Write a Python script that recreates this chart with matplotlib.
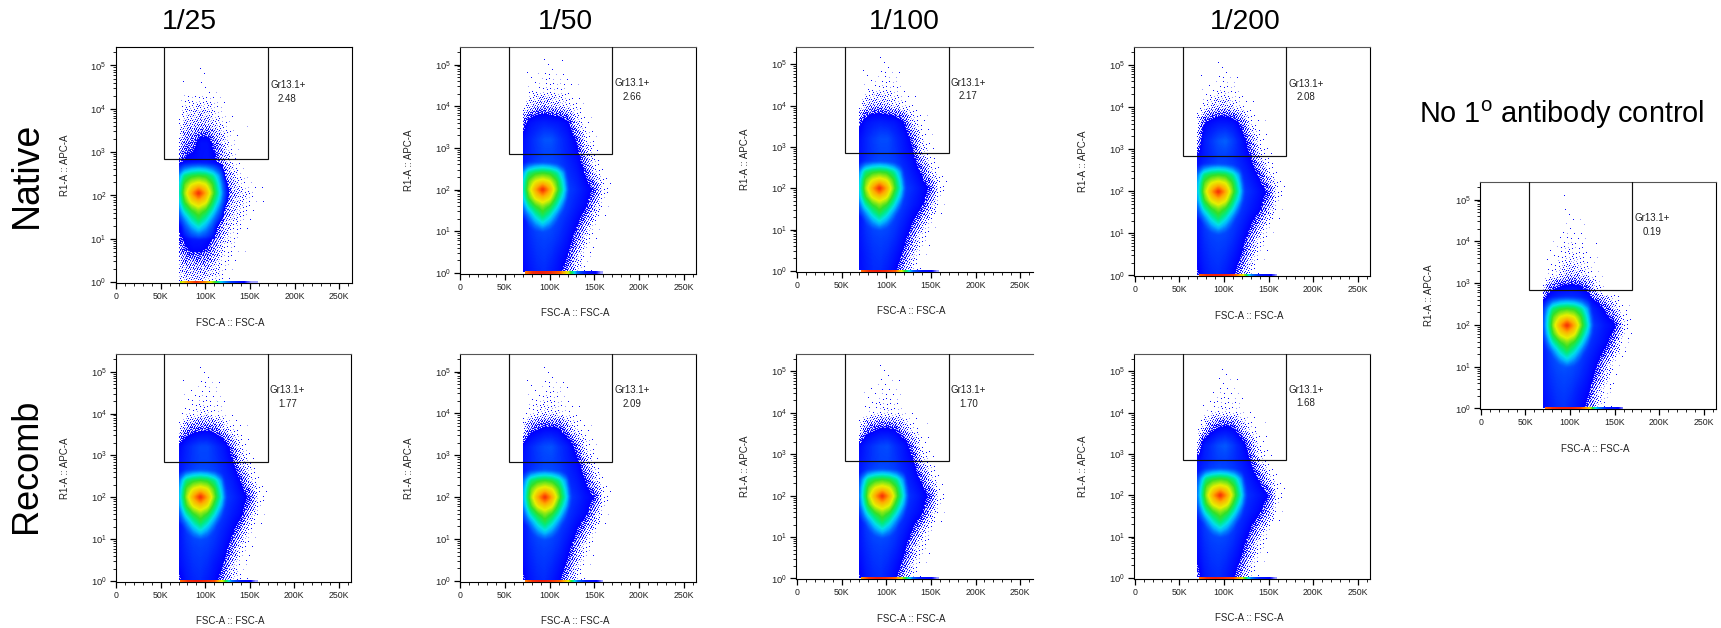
import numpy as np
import matplotlib
matplotlib.use("Agg")
import matplotlib.pyplot as plt
from matplotlib.colors import LinearSegmentedColormap, Normalize
from matplotlib.ticker import FixedLocator, FixedFormatter, NullFormatter

plt.rcParams['font.family'] = ['Liberation Sans', 'DejaVu Sans']
plt.rcParams['mathtext.default'] = 'regular'

W, H = 1721, 628

# ---- values ----
COLUMN_TITLES = ["1/25", "1/50", "1/100", "1/200"]
ROW_TITLES = ["Native", "Recomb"]
CONTROL_TITLE = "No 1$^{o}$ antibody control"
GATE_NAME = "Gr13.1+"
GATE_PERCENT = ["2.48", "2.66", "2.17", "2.08", "1.77", "2.09", "1.70", "1.68", "0.19"]
GATE_X_K = [54, 170]
GATE_Y = 700
MODE_X_K = [92, 92, 93, 94, 94, 94.5, 96, 96, 97]
MODE_LOG_Y = [2.05, 2.0, 2.0, 2.0, 2.0, 2.0, 2.0, 2.0, 2.0]

# density level (0-100 on the colour scale) on FSC-A (K) / log10 APC-A grid.
# Below 10 the number is the share of occupied pixels (10 = all occupied).
FSC_K = [70, 78, 86, 94, 102, 110, 120, 130, 140, 150, 160, 170]
LOG_APC = [5.2, 4.8, 4.4, 4.0, 3.6, 3.2, 2.8, 2.4, 2.0, 1.6, 1.2, 0.8, 0.4, 0.0]

N25 = [[0, 0, 0, 0, 0, 0, 0, 0, 0, 0, 0, 0],
       [0, 0, .1, .2, .2, .1, 0, 0, 0, 0, 0, 0],
       [0, .1, .1, .2, .2, .1, 0, 0, 0, 0, 0, 0],
       [.5, 2, 2.5, 3, 2.5, 1.5, .5, .1, 0, 0, 0, 0],
       [1, 4, 4, 5, 5, 3, 1.5, .3, .1, 0, 0, 0],
       [3, 7, 8, 13, 13, 8, 3, .8, .1, 0, 0, 0],
       [7, 11, 12, 13, 14, 11, 5, 1.5, .3, 0, 0, 0],
       [11, 17, 21, 23, 21, 15, 8, 4, 1, .1, 0, 0],
       [13, 19, 23, 25, 22, 17, 9, 5, 3, 1, .2, 0],
       [12, 17, 21, 23, 20, 15, 7, 3, 1.5, .4, 0, 0],
       [10, 14, 17, 18, 15, 10, 4, 1.5, .4, .1, 0, 0],
       [6, 10, 12, 12, 10, 6, 2, .8, .2, 0, 0, 0],
       [3, 5, 5, 5, 5, 3, 1, .4, .1, 0, 0, 0],
       [2, 3, 3, 3, 2, 1.5, .5, .1, 0, 0, 0, 0]]
N50 = [[0, 0, 0, 0, 0, 0, 0, 0, 0, 0, 0, 0],
       [0, .1, .3, .5, .6, .5, .2, .05, 0, 0, 0, 0],
       [.05, .4, .9, 1.3, 1.2, 1, .6, .2, .05, 0, 0, 0],
       [.4, 3, 5, 5, 4.5, 3.5, 2, .7, .2, .05, 0, 0],
       [7, 13, 15, 16, 15, 14, 11, 3, .8, .1, 0, 0],
       [12, 17, 21, 25, 25, 20, 15, 9, 2, .4, 0, 0],
       [13, 17, 20, 22, 22, 20, 16, 12, 5, .8, .05, 0],
       [14, 22, 26, 28, 26, 24, 19, 15, 9, 2.5, .3, 0],
       [17, 24, 28, 30, 28, 26, 22, 18, 13, 9, 1.5, .05],
       [14, 23, 27, 28, 27, 25, 20, 15, 11, 4, .5, .05],
       [13, 20, 24, 26, 24, 21, 16, 11, 5, 1, .1, 0],
       [13, 18, 21, 22, 21, 18, 13, 7, 2, .3, 0, 0],
       [12, 16, 19, 20, 18, 14, 10, 3.5, .8, .1, 0, 0],
       [10, 14, 17, 18, 15, 12, 6, 2, .4, .05, 0, 0]]
N100 = [[0, 0, 0, 0, 0, 0, 0, 0, 0, 0, 0, 0],
        [0, .1, .3, .5, .6, .4, .1, 0, 0, 0, 0, 0],
        [.05, .5, .9, 1.2, 1.4, 1, .5, .1, 0, 0, 0, 0],
        [.4, 3.5, 5, 5, 4, 2.6, 1.3, .5, .1, 0, 0, 0],
        [8, 13, 15, 16, 15, 14, 10, 2.5, .7, .1, 0, 0],
        [12, 17, 21, 24, 24, 19, 14, 8, 1.5, .3, 0, 0],
        [13, 17, 20, 22, 22, 20, 15, 11, 4, .7, 0, 0],
        [14, 22, 26, 28, 26, 24, 19, 14, 9, 2.4, .3, 0],
        [17, 24, 28, 30, 28, 26, 22, 18, 13, 9, 1.5, 0],
        [14, 23, 27, 28, 27, 25, 20, 15, 11, 4.5, .4, 0],
        [13, 20, 24, 26, 24, 21, 16, 10, 4.5, 1, .1, 0],
        [13, 18, 21, 22, 21, 18, 12, 6, 1.5, .2, 0, 0],
        [12, 16, 19, 20, 18, 14, 9, 3, .6, .05, 0, 0],
        [12, 15, 18, 18, 15, 11, 5, 1.5, .3, 0, 0, 0]]
N200 = [[0, 0, 0, 0, 0, 0, 0, 0, 0, 0, 0, 0],
        [0, 0, .2, .4, .4, .2, .05, 0, 0, 0, 0, 0],
        [0, .2, .6, 1.1, 1.1, .8, .3, .05, 0, 0, 0, 0],
        [0, 1.2, 3, 4, 4, 2.8, 1.2, .4, .1, 0, 0, 0],
        [1, 10, 13, 15, 15, 14, 8, 1.5, .4, .05, 0, 0],
        [3, 15, 20, 25, 27, 22, 14, 6, 1.2, .2, 0, 0],
        [11, 15, 18, 21, 21, 19, 15, 10, 3, .5, 0, 0],
        [14, 22, 26, 28, 26, 24, 19, 14, 9, 2.4, .3, 0],
        [17, 24, 28, 30, 28, 26, 22, 18, 13, 9, 1.5, .05],
        [14, 23, 27, 28, 27, 25, 20, 15, 11, 4.5, .5, 0],
        [13, 20, 24, 26, 24, 21, 16, 10, 4.5, 1, .1, 0],
        [12, 18, 21, 22, 21, 18, 12, 6, 1.5, .2, 0, 0],
        [11, 16, 19, 20, 18, 14, 9, 3, .6, .05, 0, 0],
        [8, 14, 17, 18, 15, 11, 5, 1.5, .3, 0, 0, 0]]
R25 = [[0, 0, 0, 0, 0, 0, 0, 0, 0, 0, 0, 0],
       [0, .05, .2, .5, .7, .4, .1, 0, 0, 0, 0, 0],
       [0, .1, .5, .8, .9, .7, .3, .05, 0, 0, 0, 0],
       [.1, .6, 1.2, 1.7, 1.7, 1.2, .6, .1, 0, 0, 0, 0],
       [.8, 6, 8, 9, 9.5, 8, 4, 1.2, .3, 0, 0, 0],
       [11, 16, 20, 23, 23, 19, 14, 7, 1.5, .2, 0, 0],
       [13, 17, 20, 22, 22, 20, 16, 11, 4, .8, .05, 0],
       [14, 22, 26, 28, 26, 24, 19, 15, 9, 2.5, .3, 0],
       [17, 24, 28, 30, 28, 26, 22, 18, 13, 8.5, 1.2, .05],
       [14, 23, 27, 28, 27, 25, 20, 15, 11, 4, .5, 0],
       [13, 20, 24, 26, 24, 21, 16, 11, 5, 1, .1, 0],
       [13, 18, 21, 22, 21, 18, 13, 7, 2, .3, 0, 0],
       [12, 16, 19, 20, 18, 14, 10, 3, .8, .1, 0, 0],
       [8, 14, 17, 18, 15, 12, 6, 2, .4, .05, 0, 0]]
R50 = [[0, 0, 0, 0, 0, 0, 0, 0, 0, 0, 0, 0],
       [0, .1, .2, .5, .5, .4, .15, .05, 0, 0, 0, 0],
       [0, .3, .7, 1.1, 1.1, .8, .4, .1, 0, 0, 0, 0],
       [.2, 1, 1.7, 2.2, 2.2, 1.6, .8, .3, .1, 0, 0, 0],
       [1.5, 8, 10, 12, 12, 11, 5.5, 1.5, .5, .05, 0, 0],
       [12, 17, 21, 24, 25, 20, 15, 8, 1.8, .3, 0, 0],
       [13, 17, 20, 22, 22, 20, 16, 12, 5, .8, .05, 0],
       [14, 22, 26, 28, 26, 24, 19, 15, 10, 3.5, .3, 0],
       [17, 24, 28, 30, 28, 26, 22, 18, 13, 10, 1.5, .05],
       [14, 23, 27, 28, 27, 25, 20, 15, 11, 5, .4, 0],
       [13, 20, 24, 26, 24, 21, 16, 10, 5, .9, .05, 0],
       [12, 18, 21, 22, 21, 18, 12, 6, 1.5, .2, 0, 0],
       [11, 16, 19, 20, 18, 14, 9, 3, .6, .05, 0, 0],
       [8, 14, 17, 18, 15, 11, 5, 1.5, .3, 0, 0, 0]]
R100 = [[0, 0, 0, 0, 0, 0, 0, 0, 0, 0, 0, 0],
        [0, 0, .15, .4, .5, .3, .05, 0, 0, 0, 0, 0],
        [0, .2, .5, .8, .9, .6, .2, 0, 0, 0, 0, 0],
        [.1, .6, 1.1, 1.5, 1.8, 1.2, .6, .1, 0, 0, 0, 0],
        [1, 7, 9, 11, 11, 10, 5, 1.2, .3, 0, 0, 0],
        [11, 16, 20, 23, 24, 19, 14, 7, 1.2, .2, 0, 0],
        [13, 17, 20, 22, 22, 20, 15, 11, 4, .7, 0, 0],
        [14, 22, 26, 28, 26, 24, 19, 14, 9, 2.8, .2, 0],
        [17, 24, 28, 30, 28, 26, 22, 18, 13, 8.5, 1, 0],
        [14, 23, 27, 28, 27, 25, 20, 15, 11, 4, .3, 0],
        [13, 20, 24, 26, 24, 21, 16, 10, 4, .8, .05, 0],
        [13, 18, 21, 22, 21, 18, 12, 5, 1.2, .2, 0, 0],
        [11, 16, 19, 20, 18, 14, 9, 2.5, .5, .05, 0, 0],
        [9, 14, 17, 18, 15, 11, 5, 1.2, .3, 0, 0, 0]]
R200 = [[0, 0, 0, 0, 0, 0, 0, 0, 0, 0, 0, 0],
        [0, 0, .1, .3, .5, .3, .1, 0, 0, 0, 0, 0],
        [0, .05, .3, .7, .9, .7, .3, .05, 0, 0, 0, 0],
        [0, .2, 1, 1.5, 1.8, 1.4, .6, .2, .05, 0, 0, 0],
        [.2, 3, 8, 11, 12, 11, 5, 1.2, .3, 0, 0, 0],
        [2, 15, 19, 24, 26, 21, 14, 6, 1.2, .2, 0, 0],
        [12, 16, 19, 21, 21, 19, 15, 10, 3, .5, 0, 0],
        [14, 22, 26, 28, 26, 24, 19, 14, 9, 3, .3, 0],
        [17, 24, 28, 30, 28, 26, 22, 18, 14, 10, 1.2, .05],
        [14, 23, 27, 28, 27, 25, 20, 15, 11, 5, .3, 0],
        [13, 20, 24, 26, 24, 21, 16, 10, 4.5, .9, .05, 0],
        [12, 18, 21, 22, 21, 18, 12, 6, 1.5, .2, 0, 0],
        [10, 16, 19, 20, 18, 14, 9, 3, .5, .05, 0, 0],
        [6, 14, 17, 18, 15, 11, 5, 1.2, .2, 0, 0, 0]]
CTRL = [[0, 0, 0, .05, .05, 0, 0, 0, 0, 0, 0, 0],
        [0, 0, .05, .1, .15, .15, .08, 0, 0, 0, 0, 0],
        [0, 0, .1, .25, .4, .3, .15, .05, 0, 0, 0, 0],
        [0, .15, .4, .8, 1.2, .7, .3, .1, 0, 0, 0, 0],
        [0, .3, .8, 1.6, 2, 1.5, .7, .2, .05, 0, 0, 0],
        [0, .8, 2, 3.5, 4.5, 3.5, 1.8, .6, .1, 0, 0, 0],
        [3, 10, 13, 14, 15, 14, 10, 2.5, .6, .1, 0, 0],
        [13, 22, 26, 29, 27, 25, 20, 14, 9, 3.5, .5, 0],
        [18, 25, 29, 31, 29, 27, 23, 19, 14, 11, 2.5, .1],
        [15, 24, 28, 29, 28, 26, 21, 16, 12, 6, .8, .05],
        [14, 21, 25, 27, 25, 22, 17, 12, 6, 1.5, .15, 0],
        [14, 19, 22, 23, 22, 19, 14, 8, 2.5, .4, 0, 0],
        [13, 17, 20, 21, 19, 15, 11, 4, 1, .1, 0, 0],
        [11, 15, 18, 19, 16, 13, 8, 2.5, .5, .05, 0, 0]]
PANEL_TABLES = [N25, N50, N100, N200, R25, R50, R100, R200, CTRL]

# density around the main population, relative to its mode
MODE_DX_K = [-32, -24, -16, -8, 0, 8, 16, 24, 32, 40]
MODE_DLOG = [0.8, 0.6, 0.4, 0.2, 0.0, -0.2, -0.4, -0.6, -0.8, -1.0, -1.2]
MODE_LEVEL = [[0, 0, 0, 0, 0, 0, 0, 0, 0, 0],
              [0, 14, 26, 31, 33, 31, 26, 16, 0, 0],
              [0, 28, 50, 56, 58, 56, 48, 32, 0, 0],
              [0, 34, 60, 70, 74, 70, 58, 38, 10, 0],
              [0, 36, 64, 82, 100, 82, 62, 42, 14, 0],
              [0, 32, 58, 72, 78, 72, 54, 36, 10, 0],
              [0, 24, 46, 58, 64, 58, 44, 26, 0, 0],
              [0, 16, 32, 46, 55, 46, 32, 16, 0, 0],
              [0, 0, 22, 34, 42, 34, 22, 0, 0, 0],
              [0, 0, 14, 22, 26, 22, 14, 0, 0, 0],
              [0, 0, 0, 0, 0, 0, 0, 0, 0, 0]]

# events piled up on the x axis (off-scale low)
STRIP_K = [70, 80, 90, 100, 110, 120, 130, 140, 150, 160]
STRIP = [[60, 85, 98, 85, 60, 35, 20, 12, 6, 0],
         [85, 98, 100, 98, 92, 68, 28, 14, 11, 2],
         [88, 98, 100, 98, 92, 60, 26, 14, 11, 2],
         [90, 98, 100, 100, 96, 75, 32, 15, 12, 4],
         [88, 98, 100, 98, 94, 66, 28, 14, 11, 2],
         [85, 98, 100, 98, 92, 70, 30, 15, 12, 3],
         [80, 97, 100, 97, 90, 60, 26, 13, 11, 2],
         [88, 98, 100, 98, 94, 70, 30, 15, 11, 3],
         [88, 98, 100, 100, 96, 78, 35, 16, 13, 5]]

X_TICKS_K = [0, 50, 100, 150, 200, 250]
X_TICK_LABELS = ["0", "50K", "100K", "150K", "200K", "250K"]
Y_TICK_POWERS = [0, 1, 2, 3, 4, 5]
XLABEL = "FSC-A :: FSC-A"
YLABEL = "R1-A :: APC-A"

# ---- layout in reference pixels: left, right, top, bottom ----
BOXES = [(115.5, 351.7, 47.3, 283.0), (459.7, 696.3, 47.0, 273.7),
         (796.3, 1032.7, 47.0, 271.7), (1134.3, 1370.3, 47.0, 276.3),
         (115.7, 351.3, 354.0, 582.0), (459.7, 696.3, 354.0, 581.7),
         (796.3, 1032.7, 354.0, 579.3), (1134.3, 1370.3, 354.0, 578.7),
         (1480.3, 1716.3, 182.0, 409.3)]
OPEN_RIGHT = {2, 6}
XLIM = (-0.6, 264.0)
LOGY_MIN, LOGY_MAX = -0.02, 5.42

CMAP = LinearSegmentedColormap.from_list("flow", [
    (0.00, (0.62, 0.62, 1.00)), (0.05, (0.62, 0.62, 1.00)),
    (0.10, (0.00, 0.00, 1.00)), (0.17, (0.00, 0.14, 1.00)),
    (0.24, (0.00, 0.30, 1.00)), (0.30, (0.00, 0.47, 1.00)),
    (0.36, (0.00, 0.70, 1.00)), (0.42, (0.00, 0.88, 0.90)),
    (0.50, (0.00, 0.92, 0.50)), (0.58, (0.20, 0.88, 0.15)),
    (0.70, (0.90, 0.94, 0.00)), (0.82, (1.00, 0.66, 0.00)),
    (0.92, (1.00, 0.35, 0.00)), (1.00, (0.93, 0.12, 0.05))])
NORM = Normalize(0, 100)

fig = plt.figure(figsize=(W / 100, H / 100), dpi=100, facecolor='white')


def grid_interp(fx, fy, xs, ys_desc, table):
    tab = np.asarray(table, float)[::-1]
    ys = np.asarray(ys_desc, float)[::-1]
    by_row = np.array([np.interp(fx, xs, r) for r in tab])
    return np.array([np.interp(fy, ys, by_row[:, j]) for j in range(len(fx))]).T


def box_blur(a):
    p = np.pad(a, 1, mode='edge')
    return sum(p[1 + i:p.shape[0] - 1 + i, 1 + j:p.shape[1] - 1 + j]
               for i in (-1, 0, 1) for j in (-1, 0, 1)) / 9.0


for i, (l, r, t, b) in enumerate(BOXES):
    ax = fig.add_axes([l / W, 1 - b / H, (r - l) / W, (b - t) / H])
    px_x = (XLIM[1] - XLIM[0]) / (r - l)
    px_y = (LOGY_MAX - LOGY_MIN) / (b - t)

    x_edges = np.arange(FSC_K[0], FSC_K[-1] + px_x, px_x)
    logy_edges = np.arange(0.02, 5.3, px_y)
    fx = (x_edges[:-1] + x_edges[1:]) / 2
    fy = (logy_edges[:-1] + logy_edges[1:]) / 2

    level = grid_interp(fx, fy, FSC_K, LOG_APC, PANEL_TABLES[i])
    mode = grid_interp(fx - MODE_X_K[i], fy - MODE_LOG_Y[i],
                       MODE_DX_K, MODE_DLOG, MODE_LEVEL)
    level = box_blur(np.maximum(level, mode))

    # sparse regions: ordered dither of the tabulated share of occupied pixels
    jj, ii = np.meshgrid(np.arange(len(fx)), np.arange(len(fy)))
    thresh = (ii * 0.7548776662 + jj * 0.5698402910 + 0.5 * (ii % 2)) % 1.0
    tone = (ii * 0.4301597 + jj * 0.2451223) % 1.0
    sparse = level < 10
    on = (level / 10) ** 1.25 > thresh
    shown = level.copy()
    shown[sparse & on] = 10
    shown[sparse & on & (tone > 0.65)] = 2
    shown = np.ma.masked_where(sparse & ~on, shown)
    ax.pcolormesh(x_edges, 10 ** logy_edges, shown, cmap=CMAP, norm=NORM,
                  antialiased=False, linewidth=0, zorder=1)

    # off-scale strip on the axis
    sx = np.arange(72, STRIP_K[-1], px_x)
    sv = np.interp(sx[:-1], STRIP_K, STRIP[i])
    sm = np.ma.masked_less(sv[None, :], 1)
    ax.pcolormesh(sx, 10 ** np.array([LOGY_MIN, LOGY_MIN + 2.2 * px_y]), sm,
                  cmap=CMAP, norm=NORM, antialiased=False, zorder=4, clip_on=False)

    # gate
    ytop = 10 ** LOGY_MAX
    ax.plot([GATE_X_K[0], GATE_X_K[0], GATE_X_K[1], GATE_X_K[1]],
            [ytop, GATE_Y, GATE_Y, ytop], color='#111111', lw=0.85,
            solid_joinstyle='miter', zorder=5)
    ax.text(172.5, 0.84, GATE_NAME, transform=ax.get_xaxis_transform(),
            fontsize=7, ha='left', va='center', color='#222222')
    ax.text(192, 0.78, GATE_PERCENT[i], transform=ax.get_xaxis_transform(),
            fontsize=7, ha='center', va='center', color='#222222')

    ax.set_xlim(*XLIM)
    ax.set_yscale('log')
    ax.set_ylim(10 ** LOGY_MIN, 10 ** LOGY_MAX)
    ax.xaxis.set_major_locator(FixedLocator(X_TICKS_K))
    ax.xaxis.set_major_formatter(FixedFormatter(X_TICK_LABELS))
    ax.xaxis.set_minor_locator(FixedLocator([v for v in range(0, 261, 10) if v % 50]))
    ax.yaxis.set_major_locator(FixedLocator([10.0 ** p for p in Y_TICK_POWERS]))
    ax.yaxis.set_major_formatter(FixedFormatter(
        ["$10^{%d}$" % p for p in Y_TICK_POWERS]))
    ax.yaxis.set_minor_locator(FixedLocator(
        [m * 10.0 ** p for p in Y_TICK_POWERS for m in range(2, 10)
         if m * 10.0 ** p < 10 ** LOGY_MAX]))
    ax.yaxis.set_minor_formatter(NullFormatter())
    ax.tick_params(axis='x', which='major', length=4.3, width=0.9, pad=2.2,
                   labelsize=6.3, labelcolor='#222222')
    ax.tick_params(axis='y', which='major', length=4.5, width=0.9, pad=2.0,
                   labelsize=6.8, labelcolor='#222222')
    ax.tick_params(axis='both', which='minor', length=2.2, width=0.6)

    for side, sp in ax.spines.items():
        sp.set_linewidth(0.8)
        sp.set_color('black')
    ax.spines['top'].set_color('black' if i == 0 else '#555555')
    if i in OPEN_RIGHT:
        ax.spines['right'].set_visible(False)

    cx = (l + r) / 2 - 3
    fig.text(cx / W, 1 - (b + 39.5) / H, XLABEL, fontsize=7, color='#222222',
             ha='center', va='center')
    fig.text((l - 51) / W, 1 - ((t + b) / 2) / H, YLABEL, fontsize=7,
             color='#222222', rotation=90, ha='center', va='center')

TITLE_X = [189, 565, 904, 1245.5]
for x, s in zip(TITLE_X, COLUMN_TITLES):
    fig.text(x / W, 1 - 22 / H, s, fontsize=20.4, ha='center', va='center')
for y, s, size in zip([175, 466], ROW_TITLES, [27, 26]):
    fig.text(26.5 / W, 1 - y / H, s, fontsize=size, rotation=90, ha='center', va='center')
fig.text(1561.5 / W, 1 - 115 / H, CONTROL_TITLE, fontsize=20.8, ha='center', va='center')

fig.savefig("out.png", dpi=100, facecolor='white')
